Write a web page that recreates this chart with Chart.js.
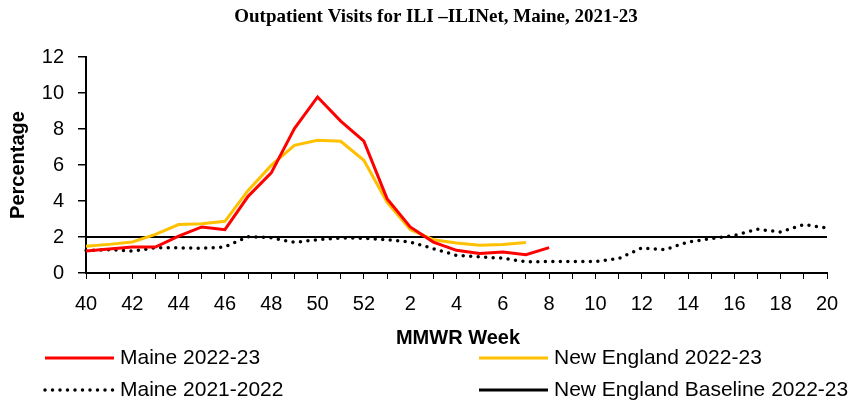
<!DOCTYPE html>
<html>
<head>
<meta charset="utf-8">
<script src="https://cdn.jsdelivr.net/npm/chart.js@4/dist/chart.umd.min.js"></script>
<style>
  html, body { margin: 0; padding: 0; background: #fff; }
  #wrap { width: 857px; height: 404px; }
</style>
</head>
<body>
<div id="wrap"><canvas id="chart" width="857" height="404"></canvas></div>
<script>
// MMWR weeks, 40..52 then 1..20
const weeks = ['40','41','42','43','44','45','46','47','48','49','50','51','52',
  '1','2','3','4','5','6','7','8','9','10','11','12','13','14','15','16','17','18','19','20'];

const maine2223 = [1.22, 1.33, 1.44, 1.44, 2.05, 2.56, 2.41, 4.26, 5.56, 8.02, 9.78, 8.44, 7.32,
  4.13, 2.56, 1.72, 1.26, 1.08, 1.17, 1.02, 1.41];

const newEngland2223 = [1.48, 1.59, 1.72, 2.15, 2.69, 2.74, 2.87, 4.59, 5.98, 7.09, 7.37, 7.32, 6.26,
  3.94, 2.41, 1.85, 1.67, 1.54, 1.58, 1.70];

const maine2122 = [1.25, 1.30, 1.22, 1.40, 1.40, 1.37, 1.45, 2.02, 1.96, 1.70, 1.85, 1.95, 1.93,
  1.85, 1.72, 1.35, 0.98, 0.90, 0.82, 0.62, 0.64, 0.64, 0.64, 0.80, 1.39, 1.30, 1.72, 1.91, 2.09,
  2.43, 2.28, 2.69, 2.50];

const baselineValue = 2;
const baseline = weeks.map(() => baselineValue);

const yTicks = [0, 2, 4, 6, 8, 10, 12];

const RED = '#FF0000', GOLD = '#FFC000', BLACK = '#000000';

// title, axis titles and legend drawn by hand to sit where the original puts them
const decorations = {
  id: 'decorations',
  afterDraw(chart) {
    const ctx = chart.ctx;
    ctx.save();
    ctx.fillStyle = BLACK;
    ctx.textBaseline = 'middle';

    ctx.textAlign = 'center';
    ctx.font = 'bold 19px "Liberation Serif", "Times New Roman", serif';
    ctx.fillText('Outpatient Visits for ILI \u2013ILINet, Maine, 2021-23', 436, 17);

    ctx.font = 'bold 20px "Liberation Sans", Arial, sans-serif';
    ctx.fillText('MMWR Week', 458, 338);

    ctx.save();
    ctx.translate(18, 165);
    ctx.rotate(-Math.PI / 2);
    ctx.font = 'bold 20px "Liberation Sans", Arial, sans-serif';
    ctx.fillText('Percentage', 0, 0);
    ctx.restore();

    const items = [
      { text: 'Maine 2022-23', color: RED, dash: [], x: 45, y: 358 },
      { text: 'New England 2022-23', color: GOLD, dash: [], x: 479, y: 358 },
      { text: 'Maine 2021-2022', color: BLACK, dash: [0, 7.5], x: 45, y: 390 },
      { text: 'New England Baseline 2022-23', color: BLACK, dash: [], x: 479, y: 390 }
    ];
    ctx.textAlign = 'left';
    ctx.font = '21px "Liberation Sans", Arial, sans-serif';
    items.forEach(it => {
      ctx.beginPath();
      ctx.strokeStyle = it.color;
      ctx.lineWidth = it.dash.length ? 3.5 : 3;
      ctx.lineCap = it.dash.length ? 'round' : 'butt';
      ctx.setLineDash(it.dash);
      ctx.moveTo(it.x, it.y);
      ctx.lineTo(it.x + 69, it.y);
      ctx.stroke();
      ctx.setLineDash([]);
      ctx.fillText(it.text, it.x + 75, it.y);
    });
    ctx.restore();
  }
};

new Chart(document.getElementById('chart'), {
  type: 'line',
  data: {
    labels: weeks,
    datasets: [
      { label: 'New England Baseline 2022-23', data: baseline, borderColor: BLACK, borderWidth: 2, pointRadius: 0, order: 4 },
      { label: 'Maine 2021-2022', data: maine2122, borderColor: BLACK, borderWidth: 3.5, borderDash: [0, 7.5], borderCapStyle: 'round', pointRadius: 0, order: 3 },
      { label: 'New England 2022-23', data: newEngland2223, borderColor: GOLD, borderWidth: 3, pointRadius: 0, order: 2 },
      { label: 'Maine 2022-23', data: maine2223, borderColor: RED, borderWidth: 3, pointRadius: 0, order: 1 }
    ]
  },
  options: {
    responsive: false,
    animation: false,
    layout: { padding: { top: 57, right: 30, left: 0, bottom: 0 } },
    plugins: { legend: { display: false }, title: { display: false }, tooltip: { enabled: false } },
    scales: {
      x: {
        type: 'category',
        offset: false,
        afterFit: s => { s.height = 131; },
        grid: { display: true, drawOnChartArea: false, drawTicks: true, tickLength: 6, color: BLACK, lineWidth: 1 },
        border: { display: true, color: BLACK, width: 2 },
        ticks: {
          autoSkip: false, maxRotation: 0, padding: 13, color: BLACK,
          font: { size: 20, family: '"Liberation Sans", Arial, sans-serif' },
          callback: (v, i) => (i % 2 === 0 ? weeks[i] : '')
        }
      },
      y: {
        min: 0, max: 12,
        afterFit: s => { s.width = 86; },
        afterBuildTicks: s => { s.ticks = yTicks.map(v => ({ value: v })); },
        grid: { display: true, drawOnChartArea: false, drawTicks: true, tickLength: 8, color: BLACK, lineWidth: 1.5 },
        border: { display: true, color: BLACK, width: 2 },
        ticks: {
          padding: 14, color: BLACK,
          font: { size: 20, family: '"Liberation Sans", Arial, sans-serif' }
        }
      }
    }
  },
  plugins: [decorations]
});
</script>
</body>
</html>
